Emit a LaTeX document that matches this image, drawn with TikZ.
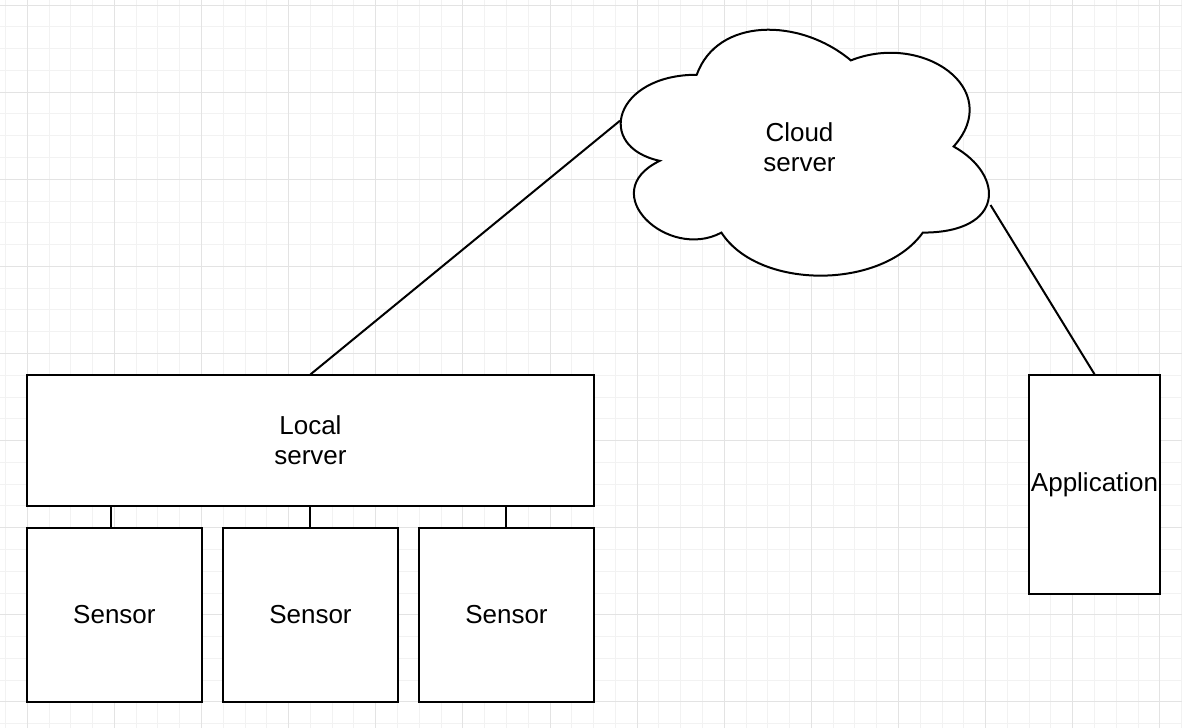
\documentclass[tikz,border=0pt]{standalone}
\usepackage{fontspec}
\setmainfont{Liberation Sans}
\begin{document}
\begin{tikzpicture}[x={(0.75pt,0)},y={(0,-0.75pt)},
  minorline/.style={draw=black!5,line width=0.75pt},
  majorline/.style={draw=black!11,line width=0.75pt},
  box/.style={draw=black,line width=1.5pt,fill=white,rectangle,inner sep=0pt,align=center,
    font=\fontsize{19.5pt}{22.5pt}\selectfont},
  link/.style={draw=black,line width=1.5pt},
  lbl/.style={align=center,inner sep=0pt,font=\fontsize{19.5pt}{22.5pt}\selectfont}]
\useasboundingbox[fill=white] (0,0) rectangle (1182,728);
% grid
\foreach \i in {0,...,54} {\draw[minorline] ({5.5+21.78*\i},0) -- ({5.5+21.78*\i},728);}
\foreach \i in {0,...,33} {\draw[minorline] (0,{5+21.78*\i}) -- (1182,{5+21.78*\i});}
\foreach \i in {0,...,13} {\draw[majorline] ({27.3+87.12*\i},0) -- ({27.3+87.12*\i},728);}
\foreach \i in {0,...,8} {\draw[majorline] (0,{5+87.12*\i}) -- (1182,{5+87.12*\i});}
% boxes
\node[box,minimum width=424.7pt,minimum height=97.8pt] (local) at (310.45,440.6) {Local\\server};
\node[box,minimum width=130.7pt,minimum height=130.7pt] (s1) at (114.4,614.85) {Sensor};
\node[box,minimum width=130.7pt,minimum height=130.7pt] (s2) at (310.45,614.85) {Sensor};
\node[box,minimum width=130.7pt,minimum height=130.7pt] (s3) at (506.45,614.85) {Sensor};
\node[box,minimum width=98.2pt,minimum height=163.7pt] (app) at (1094.55,484.45) {Application};
% cloud
\def\cx{594}\def\cy{3}\def\cw{411}\def\ch{287}
\draw[line width=1.5pt,fill=white]
  ({\cx+0.25*\cw},{\cy+0.25*\ch})
  .. controls ({\cx+0.05*\cw},{\cy+0.25*\ch}) and ({\cx},{\cy+0.5*\ch}) .. ({\cx+0.16*\cw},{\cy+0.55*\ch})
  .. controls ({\cx},{\cy+0.66*\ch}) and ({\cx+0.18*\cw},{\cy+0.9*\ch}) .. ({\cx+0.31*\cw},{\cy+0.8*\ch})
  .. controls ({\cx+0.4*\cw},{\cy+\ch}) and ({\cx+0.7*\cw},{\cy+\ch}) .. ({\cx+0.8*\cw},{\cy+0.8*\ch})
  .. controls ({\cx+\cw},{\cy+0.8*\ch}) and ({\cx+\cw},{\cy+0.6*\ch}) .. ({\cx+0.875*\cw},{\cy+0.5*\ch})
  .. controls ({\cx+\cw},{\cy+0.3*\ch}) and ({\cx+0.8*\cw},{\cy+0.1*\ch}) .. ({\cx+0.625*\cw},{\cy+0.2*\ch})
  .. controls ({\cx+0.5*\cw},{\cy+0.05*\ch}) and ({\cx+0.3*\cw},{\cy+0.05*\ch}) .. cycle;
\node[lbl] (cloud) at (799.5,147) {Cloud\\server};
\coordinate (cl) at (620,120.7);
\coordinate (cr) at (990.5,205);
% connectors
\draw[link] (local.north) -- (cl);
\draw[link] (cr) -- (app.north);
\draw[link] ([xshift=-2.9pt]s1.north) -- ([xshift=-2.9pt]s1.north |- local.south);
\draw[link] (s2.north) -- (local.south);
\draw[link] (s3.north) -- (s3.north |- local.south);
\end{tikzpicture}
\end{document}
